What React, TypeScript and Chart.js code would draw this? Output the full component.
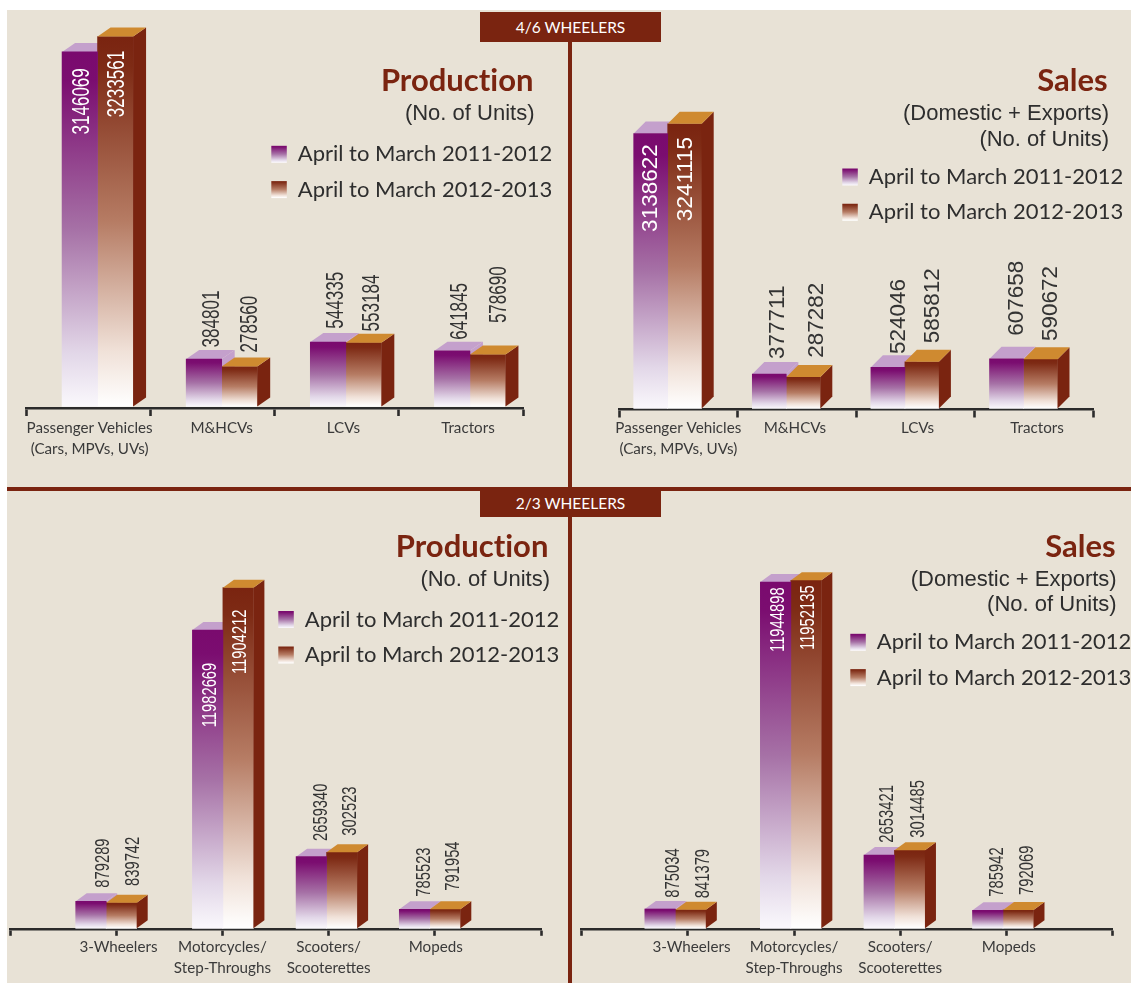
import React, { useEffect, useRef } from "react";
import { Chart, registerables } from "chart.js";

Chart.register(...registerables);

// Series names and categories
const seriesNames = ["April to March 2011-2012", "April to March 2012-2013"];
const categories46 = [["Passenger Vehicles", "(Cars, MPVs, UVs)"], "M&HCVs", "LCVs", "Tractors"];
const categories23 = ["", "3-Wheelers", ["Motorcycles/", "Step-Throughs"], ["Scooters/", "Scooterettes"], "Mopeds", ""];

// Bar heights (the printed figures do not always agree with the drawn bars)
const prod46First = [3146000, 421400, 572200, 494100];
const prod46Second = [3282000, 354800, 566000, 461300];
const sales46First = [3137000, 393300, 469700, 567700];
const sales46Second = [3247000, 359100, 533500, 560900];
const prod23First = [null, 1080000, 11932000, 2864000, 760000, null];
const prod23Second = [null, 1024000, 13624000, 3040000, 760000, null];
const sales23First = [null, 666000, 11947000, 2529000, 621000, null];
const sales23Second = [null, 642000, 12006000, 2691000, 631000, null];

// Figures printed next to the bars
const prod46Labels = [["3146069", "384801", "544335", "641845"], ["3233561", "278560", "553184", "578690"]];
const sales46Labels = [["3138622", "377711", "524046", "607658"], ["3241115", "287282", "585812", "590672"]];
const prod23Labels = [["", "879289", "11982669", "2659340", "785523", ""], ["", "839742", "11904212", "302523", "791954", ""]];
const sales23Labels = [["", "875034", "11944898", "2653421", "785942", ""], ["", "841379", "11952135", "3014485", "792069", ""]];

const BROWN = "#7a2410";
const TEXT = "#2e2e2e";
const UI_FONT = "Lato, 'Open Sans', sans-serif";
const NUM_FONT = "'Liberation Sans', Arial, sans-serif";

const panels = [
  {
    key: "p46", rect: [7, 11, 561, 476], axis: [26.5, 523, 408], plotTop: 21,
    yRange: [-13300, 3420000], offset: true, tickLen: 8, tickPad: 2,
    cats: categories46, first: prod46First, second: prod46Second, labels: prod46Labels,
    barW: 35.5, depth: [13, 9], barShift: [9, 9, 9, 9], tickShift: [1, 9, 6.6, 7],
    numFont: 23, numScale: 0.74,
    labelPos: [
      [[1, -82.6], [7, 11.6], [7.3, 13.3], [7.3, 11]],
      [[1, -80.6], [10, 14], [8, 11.3], [10, 31.4]],
    ],
    title: "Production", titleRight: 533.5, titleY: 79,
    sub: [["(No. of Units)", 113]], subRight: 534.5,
    legend: [271, 154],
  },
  {
    key: "s46", rect: [571, 11, 560, 476], axis: [619, 1093.4, 409.5], plotTop: 21,
    yRange: [-11400, 4420000], offset: true, tickLen: 8, tickPad: 0.5,
    cats: categories46, first: sales46First, second: sales46Second, labels: sales46Labels,
    barW: 34, depth: [12, 12], barShift: [-10.6, -10.6, -10.6, -10.6], tickShift: [0, -2, 2, 3],
    numFont: 22.5, numScale: 1,
    labelPos: [
      [[-1.3, -98.4], [6.7, 15], [9.5, 13.3], [8.4, 23]],
      [[0, -97.3], [11.6, 19.3], [9.5, 18.4], [9, 18.3]],
    ],
    title: "Sales", titleRight: 1107.7, titleY: 79,
    sub: [["(Domestic + Exports)", 113], ["(No. of Units)", 138.7]], subRight: 1109,
    legend: [842, 176.7],
  },
  {
    key: "p23", rect: [7, 490, 561, 493], axis: [10, 541, 929.8], plotTop: 510,
    yRange: [-60000, 16732000], offset: false, tickLen: 6, tickPad: 1,
    cats: categories23, first: prod23First, second: prod23Second, labels: prod23Labels,
    barW: 30.5, depth: [11, 8], barShift: [0, -10, 0.5, -2, -5, 0], tickShift: [0, 2.3, 0, 0, 1, 0],
    numFont: 20.5, numScale: 0.72,
    labelPos: [
      [[0, 0], [10.5, 13.6], [1.5, -97.3], [8, 15.7], [8.5, 12.6], [0, 0]],
      [[0, 0], [10.3, 16.7], [0.5, -86.3], [7, 16.6], [6.5, 18.6], [0, 0]],
    ],
    title: "Production", titleRight: 548.4, titleY: 545,
    sub: [["(No. of Units)", 579.3]], subRight: 550,
    legend: [278, 619.3],
  },
  {
    key: "s23", rect: [571, 490, 560, 493], axis: [581.8, 1112.4, 929.8], plotTop: 510,
    yRange: [-51750, 14431000], offset: false, tickLen: 6, tickPad: 1,
    cats: categories23, first: sales23First, second: sales23Second, labels: sales23Labels,
    barW: 30.5, depth: [11, 8], barShift: [0, -12.6, -3.2, -5.7, -3.3, 0], tickShift: [0, 3.6, 0, 0, 2.6, 0],
    numFont: 20, numScale: 0.74,
    labelPos: [
      [[0, 0], [11.6, 11.3], [1.3, -70], [6.7, 12.3], [8, 13.6], [0, 0]],
      [[0, 0], [11.8, 11.4], [0.8, -69.7], [7.6, 12.6], [8, 15], [0, 0]],
    ],
    title: "Sales", titleRight: 1115.6, titleY: 545,
    sub: [["(Domestic + Exports)", 579.3], ["(No. of Units)", 604.3]], subRight: 1116.7,
    legend: [850, 642],
  },
];

const purpleStops: [number, string][] = [[0, "#7a0a6e"], [0.08, "#7b0d70"], [0.5, "#a671a6"], [0.85, "#e2d7e8"], [1, "#faf8fc"]];
const brownStops: [number, string][] = [[0, "#7a2410"], [0.08, "#7e2b15"], [0.5, "#b67c64"], [0.85, "#f0e1d8"], [1, "#ffffff"]];
const faces = [{ top: "#c4a0cc", side: "#c4a0cc" }, { top: "#cf8a30", side: BROWN }];

function vGrad(ctx: CanvasRenderingContext2D, y0: number, y1: number, stops: [number, string][]) {
  const g = ctx.createLinearGradient(0, y0, 0, y1);
  stops.forEach(([o, c]) => g.addColorStop(o, c));
  return g;
}

function drawFaces(chart: any, index: number, depth: number[]) {
  const { ctx } = chart;
  const meta = chart.getDatasetMeta(index);
  const [dx, dy] = depth;
  meta.data.forEach((el: any, i: number) => {
    if (chart.data.datasets[index].data[i] == null) return;
    const { x, y, base, width } = el;
    const l = x - width / 2;
    const r = x + width / 2;
    ctx.fillStyle = faces[index].side;
    ctx.beginPath();
    ctx.moveTo(r, y);
    ctx.lineTo(r + dx, y - dy);
    ctx.lineTo(r + dx, base - dy);
    ctx.lineTo(r, base);
    ctx.closePath();
    ctx.fill();
    ctx.fillStyle = faces[index].top;
    ctx.beginPath();
    ctx.moveTo(l, y);
    ctx.lineTo(l + dx, y - dy);
    ctx.lineTo(r + dx, y - dy);
    ctx.lineTo(r, y);
    ctx.closePath();
    ctx.fill();
  });
}

function makePlugin(p: any) {
  const done = new WeakSet();
  return {
    id: "bars3d",
    afterDatasetsUpdate(chart: any) {
      chart.data.datasets.forEach((_: any, d: number) => {
        chart.getDatasetMeta(d).data.forEach((el: any, i: number) => {
          el.x += p.barShift[i];
        });
      });
    },
    afterLayout(chart: any) {
      const lg = chart.legend;
      if (!lg) return;
      lg.left = p.legend[0] - p.rect[0] - 13;
      lg.right = lg.left + 320;
      lg.top = p.legend[1] - p.rect[1] - 24;
      lg.bottom = lg.top + 200;
    },
    beforeDraw(chart: any) {
      const items = chart.scales.x.getLabelItems();
      if (done.has(items)) return;
      done.add(items);
      items.forEach((it: any, i: number) => {
        it.options.translation[0] += p.tickShift[i];
      });
    },
    beforeDatasetDraw(chart: any, args: any) {
      if (args.index === 1) drawFaces(chart, 0, p.depth);
    },
    afterDatasetDraw(chart: any, args: any) {
      if (args.index === 1) drawFaces(chart, 1, p.depth);
    },
    afterDatasetsDraw(chart: any) {
      const { ctx } = chart;
      chart.data.datasets.forEach((ds: any, d: number) => {
        chart.getDatasetMeta(d).data.forEach((el: any, i: number) => {
          const text = p.labels[d][i];
          if (ds.data[i] == null || !text) return;
          const [ox, gap] = p.labelPos[d][i];
          ctx.save();
          ctx.translate(el.x + ox + 1.5, el.y - gap);
          ctx.rotate(-Math.PI / 2);
          ctx.scale(p.numScale, 1);
          ctx.font = `${p.numFont}px ${NUM_FONT}`;
          ctx.textAlign = "left";
          ctx.textBaseline = "middle";
          ctx.fillStyle = gap < 0 ? "#ffffff" : "#333333";
          ctx.fillText(text, 0, 0);
          ctx.restore();
        });
      });
    },
  };
}

function Panel({ p }: { p: any }) {
  const ref = useRef<HTMLCanvasElement | null>(null);
  useEffect(() => {
    const canvas = ref.current!;
    const [cl, ct, cw, ch] = p.rect;
    const [al, ar, ay] = p.axis;
    const scaleH = 60;
    const bg = (stops: [number, string][]) => (c: any) => {
      if (c.raw == null || !c.chart.scales.y) return stops[0][1];
      const ys = c.chart.scales.y;
      return vGrad(c.chart.ctx, ys.getPixelForValue(c.raw), ys.getPixelForValue(0), stops);
    };
    const chart = new Chart(canvas, {
      type: "bar",
      data: {
        labels: p.cats,
        datasets: [
          { label: seriesNames[0], data: p.first, backgroundColor: bg(purpleStops), borderWidth: 0, barThickness: p.barW, clip: false },
          { label: seriesNames[1], data: p.second, backgroundColor: bg(brownStops), borderWidth: 0, barThickness: p.barW, clip: false },
        ],
      },
      options: {
        responsive: false,
        animation: false,
        devicePixelRatio: 1,
        layout: {
          autoPadding: false,
          padding: { left: al - cl, right: cl + cw - ar, top: p.plotTop - ct, bottom: ct + ch - ay - scaleH },
        },
        plugins: {
          tooltip: { enabled: false },
          title: { display: false },
          legend: {
            display: true,
            position: "chartArea",
            align: "start",
            labels: {
              boxWidth: 15.5,
              boxHeight: 17,
              padding: 13.3,
              color: TEXT,
              font: { family: UI_FONT, size: 22 },
              generateLabels: (c: any) =>
                seriesNames.map((text, i) => {
                  const top = p.legend[1] - p.rect[1] - 8.5 + i * 35.3;
                  return {
                    text,
                    fontColor: TEXT,
                    datasetIndex: i,
                    hidden: false,
                    lineWidth: 0,
                    strokeStyle: "transparent",
                    fillStyle: vGrad(c.ctx, top, top + 17, i === 0 ? purpleStops : brownStops),
                  };
                }),
            },
          },
        },
        scales: {
          x: {
            type: "category",
            offset: p.offset,
            grid: {
              offset: p.offset,
              display: true,
              drawOnChartArea: false,
              drawTicks: true,
              tickLength: p.tickLen,
              tickWidth: 2.6,
              tickColor: "#2b2b2b",
            },
            border: { display: true, color: "#2b2b2b", width: 2.6 },
            ticks: {
              autoSkip: false,
              maxRotation: 0,
              minRotation: 0,
              padding: p.tickPad,
              color: "#3a3a3a",
              font: { family: UI_FONT, size: 15.2, lineHeight: 1.38 },
            },
            afterFit: (s: any) => {
              s.height = scaleH;
            },
          },
          y: { display: false, min: p.yRange[0], max: p.yRange[1] },
        },
      } as any,
      plugins: [makePlugin(p)],
    } as any);
    return () => chart.destroy();
  }, [p]);
  const [l, t, w, h] = p.rect;
  const textBase: React.CSSProperties = {
    position: "absolute",
    whiteSpace: "nowrap",
    transform: "translateY(-50%)",
    textAlign: "right",
    lineHeight: 1,
  };
  return (
    <>
      <canvas ref={ref} width={w} height={h} style={{ position: "absolute", left: l, top: t, width: w, height: h, display: "block" }} />
      <div style={{ ...textBase, right: 1131 - p.titleRight, top: p.titleY, color: BROWN, font: `700 31px ${UI_FONT}`, lineHeight: 1, fontVariantLigatures: "none" }}>{p.title}</div>
      {p.sub.map(([s, y]: [string, number]) => (
        <div key={s} style={{ ...textBase, right: 1131 - p.subRight, top: y, color: TEXT, font: `22px ${NUM_FONT}`, lineHeight: 1 }}>{s}</div>
      ))}
    </>
  );
}

const tabs = [["4/6 WHEELERS", 12, 30], ["2/3 WHEELERS", 490, 27]] as [string, number, number][];

export default function App() {
  return (
    <div style={{ position: "absolute", left: 0, top: 0, width: 1131, height: 983, background: "#ffffff", overflow: "hidden" }}>
      <div style={{ position: "absolute", left: 7, top: 10, width: 1124, height: 973, background: "#e8e2d6" }} />
      <div style={{ position: "absolute", left: 568, top: 40, width: 3.5, height: 943, background: BROWN }} />
      <div style={{ position: "absolute", left: 7, top: 487, width: 1124, height: 3.5, background: BROWN }} />
      {tabs.map(([t, y, h]) => (
        <div key={t} style={{ position: "absolute", left: 480, top: y, width: 181, height: h, background: BROWN, color: "#ffffff", font: `15.5px ${UI_FONT}`, lineHeight: `${h}px`, textAlign: "center" }}>{t}</div>
      ))}
      {panels.map((p) => (
        <Panel key={p.key} p={p} />
      ))}
    </div>
  );
}
